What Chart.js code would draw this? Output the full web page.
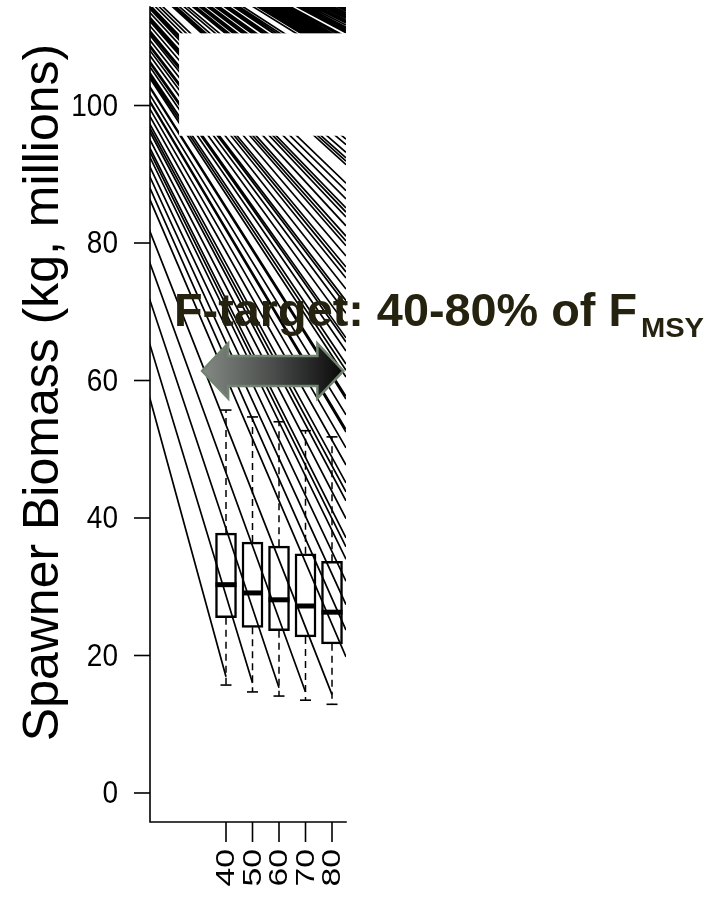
<!DOCTYPE html>
<html><head><meta charset="utf-8">
<script src="https://cdn.jsdelivr.net/npm/chart.js@4.4.1/dist/chart.umd.min.js"></script>
<style>html,body{margin:0;padding:0;background:#fff;}canvas{display:block;}</style>
</head><body>
<canvas id="c" width="716" height="905"></canvas>
<script>
// ---- data ----
const fLevels = [40, 50, 60, 70, 80];            // F-target, % of FMSY
const xTickLabels = ['40', '50', '60', '70', '80'];
const yTicks = [0, 20, 40, 60, 80, 100];
const boxMin    = [15.7, 14.7, 14.1, 13.5, 12.9];
const boxQ1     = [25.5, 24.1, 23.6, 22.7, 21.7];
const boxMedian = [30.3, 29.1, 28.1, 27.2, 26.3];
const boxQ3     = [37.8, 36.5, 35.9, 34.8, 33.7];
const boxMax    = [55.7, 54.7, 54.0, 52.7, 51.8];

// trajectory rays: common start point (off-plot, upper left)
const rayStartF = -45.3;
const rayStartB = 137.2;
// biomass where each ray leaves the right border of the plot
const rayExitB = [
  114.2,114.0,113.8,113.5,113.3,113.1,112.9,112.7,112.4,112.2,112.0,111.7,111.4,111.2,111.0,110.8,110.6,
  110.0,109.7,109.4,109.1,108.8,108.5,108.2,107.9,107.6,107.4,107.1,106.8,106.5,106.0,104.7,104.2,103.8,
  103.4,102.7,102.3,102.0,101.2,100.9,100.5,99.8,99.4,99.1,98.3,98.0,97.6,96.9,96.5,96.2,
  95.1,94.3,93.2,92.4,91.9,91.4,88.7,87.6,86.4,85.1,84.5,83.8,82.5,81.0,80.3,79.6,78.1,76.5,75.8,74.9,
  73.3,71.6,71.0,69.8,68.1,66.2,65.6,64.3,62.4,61.5,60.5,
  57.7,57.3,55.0,52.9,52.5,50.2,47.7,45.1,43.8,42.5,39.9,37.1,35.8,34.0,30.8,27.4,23.7,19.8
];
// rays that stop at a box position (one per F level)
const rayBoxEndB = [16.9, 16.0, 15.3, 14.7, 14.3];

// annotation (target range arrow) in data units
const arrowFromF = 31.0, arrowToF = 84.3, arrowB = 61.4;
// covered-over region (pasted white panel) in data units
const panelFromF = 22.3, panelTopB = 110.5, panelBottomB = 95.6;

const X_MIN = 11.32, X_MAX = 85.28, Y_MIN = -4.22, Y_MAX = 114.33;

// ---- build datasets ----
const rayData = [];
rayExitB.forEach(b => {
  rayData.push({x: rayStartF, y: rayStartB}, {x: X_MAX, y: b}, {x: X_MAX, y: null});
});
fLevels.forEach((f, i) => {
  rayData.push({x: rayStartF, y: rayStartB}, {x: f, y: rayBoxEndB[i]}, {x: f, y: null});
});
const whiskerData = [];
fLevels.forEach((f, i) => {
  whiskerData.push({x: f, y: boxQ3[i]}, {x: f, y: boxMax[i]}, {x: f, y: null});
  whiskerData.push({x: f, y: boxQ1[i]}, {x: f, y: boxMin[i]}, {x: f, y: null});
});
const capData = [];
fLevels.forEach((f, i) => { capData.push({x: f, y: boxMax[i]}, {x: f, y: boxMin[i]}); });

const overlay = {
  id: 'overlay',
  afterDatasetsDraw(chart) {
    const ctx = chart.ctx, xs = chart.scales.x, ys = chart.scales.y, a = chart.chartArea;
    // white panel
    ctx.save();
    ctx.fillStyle = '#fff';
    const px = xs.getPixelForValue(panelFromF);
    const pt = ys.getPixelForValue(panelTopB), pb = ys.getPixelForValue(panelBottomB);
    ctx.fillRect(px, pt, a.right + 2 - px, pb - pt);
    ctx.restore();
    // axes
    ctx.save();
    ctx.strokeStyle = '#000'; ctx.lineWidth = 1.6; ctx.lineCap = 'square';
    ctx.beginPath();
    ctx.moveTo(a.left, a.top); ctx.lineTo(a.left, a.bottom); ctx.lineTo(a.right, a.bottom);
    ctx.stroke();
    ctx.lineCap = 'butt';
    ctx.fillStyle = '#000';
    ctx.font = '28px "Liberation Sans", Arial, sans-serif';
    ctx.textAlign = 'right'; ctx.textBaseline = 'middle';
    yTicks.forEach(v => {
      const y = ys.getPixelForValue(v);
      ctx.beginPath(); ctx.moveTo(a.left - 16, y); ctx.lineTo(a.left, y); ctx.stroke();
      ctx.save(); ctx.translate(a.left - 32, y); ctx.scale(1, 1.15);
      ctx.fillText(String(v), 0, 1); ctx.restore();
    });
    fLevels.forEach((f, i) => {
      const x = xs.getPixelForValue(f);
      ctx.beginPath(); ctx.moveTo(x, a.bottom); ctx.lineTo(x, a.bottom + 20); ctx.stroke();
      ctx.save();
      ctx.translate(x, a.bottom + 27);
      ctx.rotate(-Math.PI / 2);
      ctx.scale(1.3, 1);
      ctx.font = '26px "Liberation Sans", Arial, sans-serif';
      ctx.textAlign = 'right'; ctx.textBaseline = 'middle';
      ctx.fillText(xTickLabels[i], 0, 1);
      ctx.restore();
    });
    // y title
    ctx.save();
    ctx.translate(58, (a.top + a.bottom) / 2 - 22);
    ctx.rotate(-Math.PI / 2);
    ctx.font = '50px "Liberation Sans", Arial, sans-serif';
    ctx.textAlign = 'center'; ctx.textBaseline = 'alphabetic';
    ctx.fillText('Spawner Biomass (kg, millions)', 0, 0);
    ctx.restore();
    ctx.restore();

    // arrow
    const x1 = xs.getPixelForValue(arrowFromF), x2 = xs.getPixelForValue(arrowToF), yc = ys.getPixelForValue(arrowB);
    const hl = 26, hh = 27.5, sh = 15;
    ctx.save();
    ctx.beginPath();
    ctx.moveTo(x1, yc);
    ctx.lineTo(x1 + hl, yc - hh); ctx.lineTo(x1 + hl, yc - sh);
    ctx.lineTo(x2 - hl, yc - sh); ctx.lineTo(x2 - hl, yc - hh);
    ctx.lineTo(x2, yc);
    ctx.lineTo(x2 - hl, yc + hh); ctx.lineTo(x2 - hl, yc + sh);
    ctx.lineTo(x1 + hl, yc + sh); ctx.lineTo(x1 + hl, yc + hh);
    ctx.closePath();
    const g = ctx.createLinearGradient(x1, 0, x2, 0);
    g.addColorStop(0, '#858a86'); g.addColorStop(0.5, '#4a4d4b'); g.addColorStop(1, '#080808');
    ctx.fillStyle = g; ctx.fill();
    ctx.strokeStyle = '#71846f'; ctx.lineWidth = 2.5; ctx.lineJoin = 'miter'; ctx.stroke();
    ctx.restore();

    // title annotation
    ctx.save();
    ctx.fillStyle = '#25230f';
    ctx.font = 'bold 47px "Liberation Sans", Arial, sans-serif';
    ctx.textBaseline = 'alphabetic'; ctx.textAlign = 'left';
    const main = 'F-target: 40-80% of F';
    const w = ctx.measureText(main).width;
    ctx.save(); ctx.translate(174, 326); ctx.scale(463 / w, 1); ctx.fillText(main, 0, 0); ctx.restore();
    ctx.font = 'bold 27px "Liberation Sans", Arial, sans-serif';
    const w2 = ctx.measureText('MSY').width;
    ctx.save(); ctx.translate(641, 337); ctx.scale(63 / w2, 1); ctx.fillText('MSY', 0, 0); ctx.restore();
    ctx.restore();
  }
};

new Chart(document.getElementById('c'), {
  type: 'bar',
  data: {
    datasets: [
      { type: 'scatter', label: 'median', data: fLevels.map((f, i) => ({x: f, y: boxMedian[i]})),
        pointStyle: 'line', pointRadius: 10.5, pointBorderWidth: 5, borderColor: '#000', pointBorderColor: '#000', order: 1 },
      { type: 'scatter', label: 'caps', data: capData,
        pointStyle: 'line', pointRadius: 5.5, pointBorderWidth: 1.6, borderColor: '#000', pointBorderColor: '#000', order: 2 },
      { type: 'bar', label: 'IQR', data: fLevels.map((f, i) => ({x: f, y: [boxQ1[i], boxQ3[i]]})),
        backgroundColor: 'rgba(0,0,0,0)', borderColor: '#000', borderWidth: 1.8, borderSkipped: false,
        barThickness: 21, order: 3 },
      { type: 'line', label: 'whiskers', data: whiskerData, borderColor: '#000', borderWidth: 1.5,
        borderDash: [7, 5], pointRadius: 0, spanGaps: false, order: 4 },
      { type: 'line', label: 'trajectories', data: rayData, borderColor: '#000', borderWidth: 1.7,
        pointRadius: 0, spanGaps: false, order: 5 }
    ]
  },
  options: {
    responsive: false, animation: false, devicePixelRatio: 1, events: [],
    layout: { autoPadding: false, padding: { left: 150, right: 370, top: 7, bottom: 83 } },
    plugins: { legend: { display: false }, tooltip: { enabled: false } },
    scales: {
      x: { type: 'linear', min: X_MIN, max: X_MAX, display: false, offset: false, grid: { display: false } },
      y: { type: 'linear', min: Y_MIN, max: Y_MAX, display: false, grid: { display: false } }
    }
  },
  plugins: [overlay]
});
</script>
</body></html>
